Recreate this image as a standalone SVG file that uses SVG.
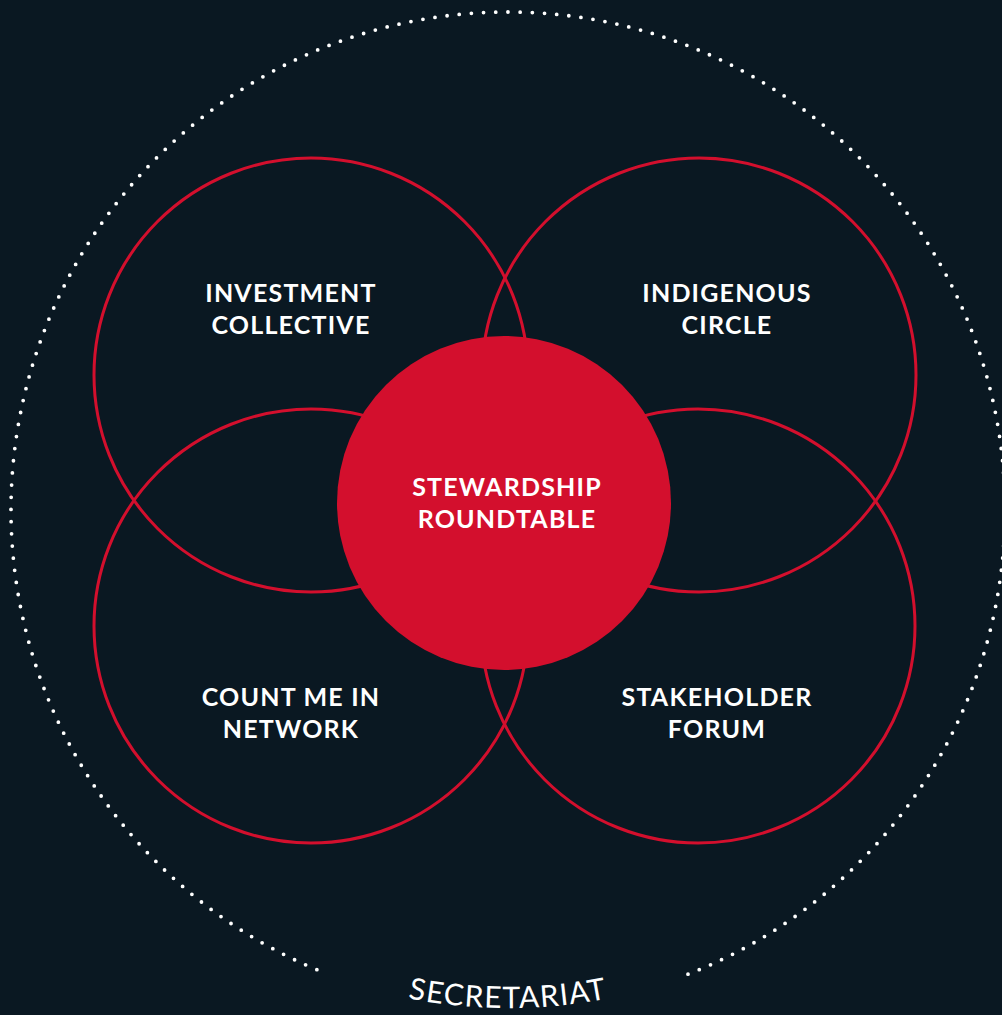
<svg xmlns="http://www.w3.org/2000/svg" width="1002" height="1015" viewBox="0 0 1002 1015">
  <style>
    .ring { fill: none; stroke: #D30F2D; stroke-width: 3; }
    .lbl { font-family: Lato, "Liberation Sans", sans-serif; font-weight: 700; font-size: 25px; letter-spacing: 1.2px; fill: #FFFFFF; text-anchor: middle; }
    .sec { font-family: Lato, "Liberation Sans", sans-serif; font-weight: 400; font-size: 30px; letter-spacing: 1.2px; fill: #FFFFFF; }
  </style>
  <defs>
    <path id="secArc" d="M 208 911 A 512 512 0 0 0 808 911"/>
  </defs>
  <rect x="0" y="0" width="1002" height="1015" fill="#0A1822"/>

  <g id="secretariat">
    <path d="M 688 974.2 A 497 498 0 1 0 328 974.2" fill="none" stroke="#FFFFFF" stroke-width="3.8" stroke-linecap="round" stroke-dasharray="0 12.2"/>
    <text class="sec"><textPath href="#secArc" startOffset="50%" text-anchor="middle">SECRETARIAT</textPath></text>
  </g>

  <g id="investment-collective">
    <circle class="ring" cx="311" cy="375" r="217"/>
    <text class="lbl" x="291" y="302">INVESTMENT</text>
    <text class="lbl" x="291" y="334">COLLECTIVE</text>
  </g>

  <g id="indigenous-circle">
    <circle class="ring" cx="699" cy="375" r="217"/>
    <text class="lbl" x="727" y="302">INDIGENOUS</text>
    <text class="lbl" x="727" y="334">CIRCLE</text>
  </g>

  <g id="count-me-in-network">
    <circle class="ring" cx="311" cy="626" r="217"/>
    <text class="lbl" x="291" y="706">COUNT ME IN</text>
    <text class="lbl" x="291" y="738">NETWORK</text>
  </g>

  <g id="stakeholder-forum">
    <circle class="ring" cx="698" cy="626" r="217"/>
    <text class="lbl" x="717" y="706">STAKEHOLDER</text>
    <text class="lbl" x="717" y="738">FORUM</text>
  </g>

  <g id="stewardship-roundtable">
    <circle cx="504" cy="503" r="167" fill="#D30F2D"/>
    <text class="lbl" x="507" y="496">STEWARDSHIP</text>
    <text class="lbl" x="507" y="528">ROUNDTABLE</text>
  </g>
</svg>
